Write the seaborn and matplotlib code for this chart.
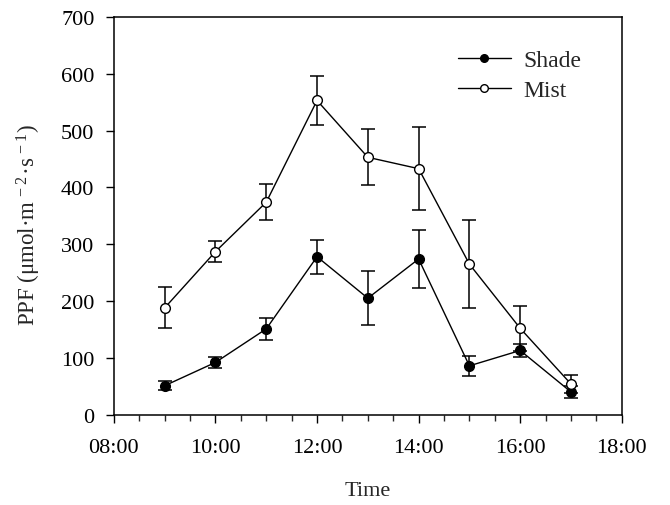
import numpy as np
import pandas as pd
import matplotlib
matplotlib.use('Agg')
import matplotlib.pyplot as plt
import seaborn as sns
from matplotlib.ticker import MultipleLocator, FuncFormatter
from matplotlib.lines import Line2D

# data (hour of day, PPF mean and error)
hours = [9, 10, 11, 12, 13, 14, 15, 16, 17]
shade_mean = [51, 92, 151, 278, 205, 274, 86, 113, 40]
shade_err = [8, 10, 20, 30, 48, 51, 18, 12, 10]
mist_mean = [188, 287, 374, 553, 453, 433, 265, 152, 54]
mist_err = [36, 19, 32, 43, 49, 73, 78, 40, 15]
series_names = ['Shade', 'Mist']

sns.set_style('ticks')
plt.rcParams['font.family'] = ['Liberation Serif', 'DejaVu Serif']
plt.rcParams['mathtext.fontset'] = 'custom'
plt.rcParams['mathtext.rm'] = 'Liberation Serif'
plt.rcParams['mathtext.it'] = 'Liberation Serif'

df = pd.DataFrame({
    'hour': hours * 2,
    'PPF': shade_mean + mist_mean,
    'err': shade_err + mist_err,
    'group': [series_names[0]] * len(hours) + [series_names[1]] * len(hours),
})

fs = 16
fig = plt.figure(figsize=(6.7, 5.06), dpi=100)
ax = fig.add_axes([0.170, 0.1785, 0.758, 0.786])

faces = {'Shade': 'black', 'Mist': 'white'}
for name in series_names:
    sub = df[df['group'] == name]
    ax.errorbar(sub['hour'], sub['PPF'], yerr=sub['err'], fmt='none',
                ecolor='black', elinewidth=1.1, capsize=5, capthick=1.1, zorder=2)
    sns.lineplot(x='hour', y='PPF', data=sub, ax=ax, color='black', linewidth=1.0,
                 marker='o', markersize=7, markerfacecolor=faces[name],
                 markeredgecolor='black', markeredgewidth=1.0, zorder=3)

ax.set_xlim(8, 18)
ax.set_ylim(0, 700)
ax.xaxis.set_major_locator(MultipleLocator(2))
ax.xaxis.set_minor_locator(MultipleLocator(0.5))
ax.xaxis.set_major_formatter(FuncFormatter(lambda v, p: '%02d:00' % int(round(v))))
ax.yaxis.set_major_locator(MultipleLocator(100))
ax.tick_params(axis='both', which='major', direction='out', length=6, width=1,
               labelsize=fs, colors='black')
ax.tick_params(axis='x', which='major', pad=11)
ax.tick_params(axis='y', which='major', pad=8)
ax.tick_params(axis='x', which='minor', direction='out', length=4, width=1)
for s in ax.spines.values():
    s.set_linewidth(1.1)
    s.set_color('black')

ax.set_xlabel('Time', fontsize=16, labelpad=17)
ax.set_ylabel(r'PPF (μmol·m$^{\,-2\,}$·s$^{\,-1}$)', fontsize=16.5)
ax.yaxis.set_label_coords(-0.14, 0.48)

handles = [Line2D([0], [0], color='black', lw=1.0, marker='o', markersize=5.5,
                  markerfacecolor=faces[n], markeredgecolor='black') for n in series_names]
ax.legend(handles, series_names, loc='upper left', bbox_to_anchor=(0.677, 0.918),
          frameon=False, fontsize=17, handlelength=2.25, handletextpad=0.55,
          labelspacing=0.35, borderpad=0, borderaxespad=0)

fig.savefig('out.png', dpi=100)
